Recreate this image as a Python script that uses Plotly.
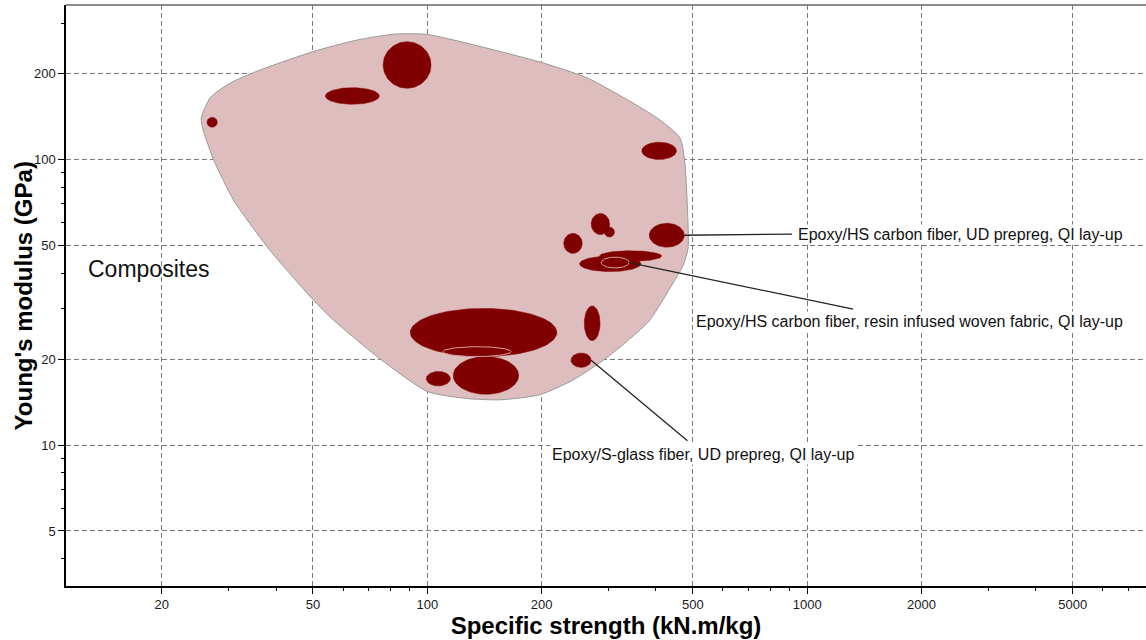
import numpy as np
import plotly.graph_objects as go

# ---------------- data ----------------
# Material bubbles: property ranges (min / max)
strength_min = [26.3, 53.9, 76.5, 367, 270, 292.7, 228.6, 384, 284, 251.7, 287, 90.2, 117, 110, 99.4, 259, 239]
strength_max = [28.0, 74.8, 102.3, 453, 302, 311, 255.8, 475, 414, 365, 340, 219.3, 174, 166, 115, 285, 270]
modulus_min = [129.7, 156.1, 177.6, 100, 54.6, 53.5, 46.9, 49.3, 44.0, 40.5, 41.7, 20.4, 15.05, 20.4, 16.1, 23.2, 18.7]
modulus_max = [140.6, 178.5, 258.6, 115, 64.7, 58.0, 55.1, 59.8, 47.9, 45.9, 45.5, 30.1, 20.4, 22.1, 18.1, 30.7, 21.0]
highlighted = [False] * 10 + [True, False, False, True, False, False, False]

# Family envelope ("Composites")
env_strength = [25.4, 26.9, 30.3, 35.7, 50.1, 65.4, 82.4, 100, 198, 264, 348, 410, 463, 477, 483, 486,
                472, 428, 382, 298, 242, 198, 156, 127, 100, 75.2, 56.6, 50.1, 37.9, 30.9, 27.4, 25.7]
env_modulus = [139.8, 165.5, 185.3, 204.2, 238.9, 262.2, 275.1, 274.0, 219.5, 193.0, 157.7, 137.5, 118.9, 95.7, 72.1, 49.0,
               42.7, 34.1, 27.0, 20.3, 16.9, 15.0, 14.4, 14.55, 15.4, 20.0, 27.4, 32.2, 49.4, 72.1, 99.6, 126.8]
family_label = "Composites"
family_label_pos = (12.66, 41.4)

# Labelled records
label_text = ["Epoxy/HS carbon fiber, UD prepreg, QI lay-up",
              "Epoxy/HS carbon fiber, resin infused woven fabric, QI lay-up",
              "Epoxy/S-glass fiber, UD prepreg, QI lay-up"]
label_material = [7, 10, 16]
leader_end_strength = [913, 1322, 484]
leader_end_modulus = [54.8, 29.9, 10.35]
label_strength = [935, 504, 210.7]
label_modulus = [54.8, 26.97, 9.23]

# Axis ticks and titles
x_title = "Specific strength (kN.m/kg)"
y_title = "Young's modulus (GPa)"
x_ticks = [20, 50, 100, 200, 500, 1000, 2000, 5000]
x_minor = [30, 40, 60, 70, 80, 90, 300, 400, 600, 700, 800, 900, 3000, 4000, 6000, 7000]
y_ticks = [5, 10, 20, 50, 100, 200]
y_minor = [4, 6, 7, 8, 9, 30, 40, 60, 70, 80, 90, 300]
x_range = (11.19, 7800)
y_range = (3.207, 347.7)

# ---------------- figure ----------------
FONT = "Liberation Sans, Arial, sans-serif"
MAROON = "rgb(128,0,0)"


def ellipse(xlo, xhi, ylo, yhi, n=120):
    cx = (np.log10(xlo) + np.log10(xhi)) / 2
    ax = (np.log10(xhi) - np.log10(xlo)) / 2
    cy = (np.log10(ylo) + np.log10(yhi)) / 2
    ay = (np.log10(yhi) - np.log10(ylo)) / 2
    t = np.linspace(0, 2 * np.pi, n)
    return 10 ** (cx + ax * np.cos(t)), 10 ** (cy + ay * np.sin(t))


fig = go.Figure()

# envelope
fig.add_trace(go.Scatter(
    x=env_strength + env_strength[:1], y=env_modulus + env_modulus[:1],
    mode="lines", line=dict(color="#9a9a9a", width=1, shape="spline", smoothing=0.6),
    fill="toself", fillcolor="rgb(221,189,190)", hoverinfo="skip"))

# bubbles
for i in range(len(strength_min)):
    ex, ey = ellipse(strength_min[i], strength_max[i], modulus_min[i], modulus_max[i])
    fig.add_trace(go.Scatter(
        x=ex, y=ey, mode="lines", fill="toself", fillcolor=MAROON,
        line=dict(color="rgb(212,160,160)" if highlighted[i] else MAROON,
                  width=1 if highlighted[i] else 0.5),
        hoverinfo="skip"))

# leader lines
for k, m in enumerate(label_material):
    x0 = strength_max[m]
    y0 = float(np.sqrt(modulus_min[m] * modulus_max[m]))
    fig.add_trace(go.Scatter(
        x=[x0, leader_end_strength[k]], y=[y0, leader_end_modulus[k]],
        mode="lines", line=dict(color="#222", width=1.3), hoverinfo="skip"))

annotations = []
for k, txt in enumerate(label_text):
    annotations.append(dict(
        x=np.log10(label_strength[k]), y=np.log10(label_modulus[k]), xref="x", yref="y",
        text=txt, showarrow=False, xanchor="left", yanchor="middle",
        bgcolor="white", borderpad=1,
        font=dict(family=FONT, size=16, color="#111")))
annotations.append(dict(
    x=np.log10(family_label_pos[0]), y=np.log10(family_label_pos[1]), xref="x", yref="y",
    text=family_label, showarrow=False, xanchor="left", yanchor="middle",
    font=dict(family=FONT, size=23, color="#111")))
# y-axis title
annotations.append(dict(
    x=-0.039, y=0.5, xref="paper", yref="paper", text=y_title, textangle=-90,
    showarrow=False, xanchor="center", yanchor="middle",
    font=dict(family=FONT, size=24, color="black", weight="bold")))

axis_common = dict(
    type="log", showline=True, linecolor="black", linewidth=1.5,
    ticks="outside", ticklen=6, tickwidth=1, tickcolor="black",
    showgrid=True, gridcolor="#7a7a7a", gridwidth=1, griddash="5px,3px",
    zeroline=False, tickfont=dict(family=FONT, size=13, color="#1a1a1a"),
    automargin=False,
)

fig.update_layout(
    width=1146, height=640,
    margin=dict(l=66, r=0, t=5, b=54, autoexpand=False),
    paper_bgcolor="white", plot_bgcolor="white",
    showlegend=False,
    annotations=annotations,
    xaxis=dict(
        **axis_common,
        range=[np.log10(x_range[0]), np.log10(x_range[1])],
        tickmode="array", tickvals=x_ticks, ticktext=[str(v) for v in x_ticks],
        minor=dict(tickmode="array", tickvals=x_minor, ticks="outside", ticklen=3,
                   tickcolor="black", showgrid=False),
        title=dict(text=x_title, standoff=6,
                   font=dict(family=FONT, size=24, color="black", weight="bold")),
    ),
    yaxis=dict(
        **axis_common,
        range=[np.log10(y_range[0]), np.log10(y_range[1])],
        tickmode="array", tickvals=y_ticks, ticktext=[str(v) for v in y_ticks],
        minor=dict(tickmode="array", tickvals=y_minor, ticks="outside", ticklen=3,
                   tickcolor="black", showgrid=False),
    ),
    shapes=[dict(type="line", xref="paper", yref="paper", x0=0, x1=1, y0=1, y1=1,
                 line=dict(color="#666", width=1.5))],
)

fig.write_html("out.html", config={"displayModeBar": False},
               post_script="document.body.style.margin='0';")
